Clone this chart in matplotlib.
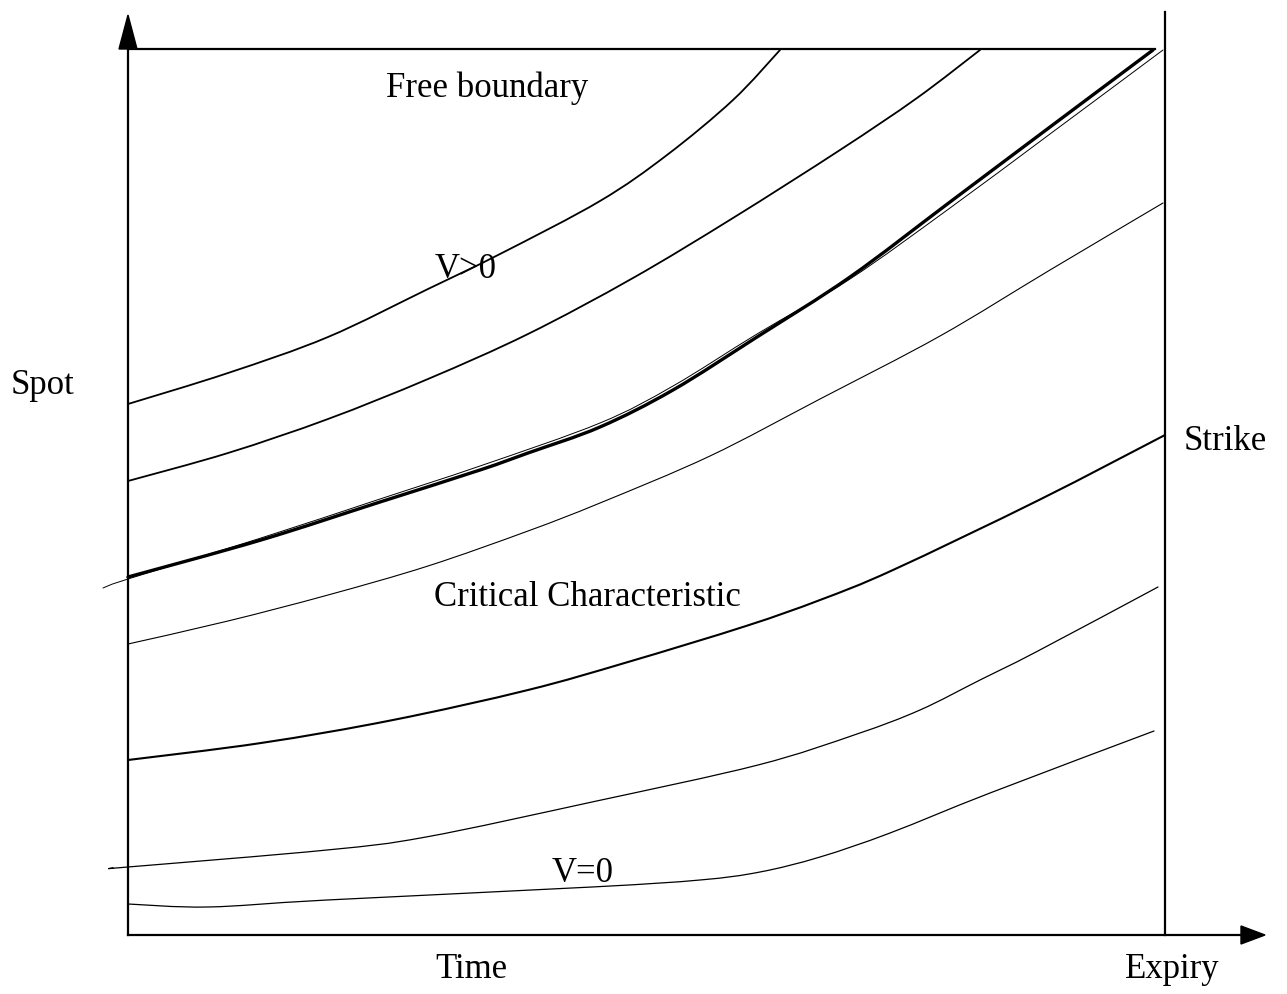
import matplotlib
matplotlib.use("Agg")
import matplotlib.pyplot as plt
from matplotlib.patches import Polygon, PathPatch
from matplotlib.path import Path

plt.rcParams['font.family'] = ['Liberation Serif', 'DejaVu Serif']

# characteristic curves, sampled in drawing units (x = time, y = spot, y downwards)
upper_x = [128, 228, 328, 428, 500, 600, 667, 733, 780]
upper_y = [404, 373, 337, 289, 254, 201, 155, 100, 50]

second_x = [128, 228, 328, 428, 528, 633, 733, 840, 917, 980]
second_y = [481, 453, 419, 379, 334, 278, 218, 150, 98, 50]

critical_x = [128, 261, 380, 480, 528, 600, 673, 757, 850, 950, 1050, 1153]
critical_y = [577, 540, 502, 470, 453, 427, 390, 337, 277, 202, 127, 50]

near_crit_x = [103, 128, 261, 380, 480, 600, 673, 757, 850, 950, 1050, 1163]
near_crit_y = [588, 579, 538, 499, 466, 423, 386, 334, 279, 208, 134, 50]

thin_x = [128, 228, 328, 428, 528, 600, 710, 820, 940, 1050, 1163]
thin_y = [644, 621, 595, 566, 531, 503, 456, 399, 336, 270, 203]

strike_x = [128, 261, 393, 528, 628, 746, 820, 893, 1039, 1165]
strike_y = [760, 743, 720, 690, 662, 626, 600, 570, 500, 435]

lower_x = [113, 128, 327, 426, 592, 758, 857, 920, 980, 1036, 1158]
lower_y = [868, 867, 850, 837, 802, 765, 734, 710, 680, 652, 587]

zero_x = [128, 208, 327, 592, 700, 760, 820, 890, 990, 1154]
zero_y = [904, 907, 900, 887, 880, 872, 857, 833, 793, 731]


def curve(ax, xs, ys, lw):
    # Catmull-Rom through the sampled points, drawn as cubic Bezier segments
    pts = list(zip(xs, ys))
    n = len(pts)
    verts = [pts[0]]
    codes = [Path.MOVETO]
    for i in range(n - 1):
        p0 = pts[max(i - 1, 0)]
        p1 = pts[i]
        p2 = pts[i + 1]
        p3 = pts[min(i + 2, n - 1)]
        c1 = (p1[0] + (p2[0] - p0[0]) / 6, p1[1] + (p2[1] - p0[1]) / 6)
        c2 = (p2[0] - (p3[0] - p1[0]) / 6, p2[1] - (p3[1] - p1[1]) / 6)
        verts += [c1, c2, p2]
        codes += [Path.CURVE4] * 3
    ax.add_patch(PathPatch(Path(verts, codes), fill=False, edgecolor='black',
                           lw=lw, capstyle='round', joinstyle='round'))


fig = plt.figure(figsize=(12.87, 9.94), dpi=100)
ax = fig.add_axes([0, 0, 1, 1])
ax.set_xlim(0, 1287)
ax.set_ylim(994, 0)
ax.axis('off')

k = 'black'
# axes, top boundary and expiry line
ax.plot([128, 128], [935, 40], color=k, lw=1.6)
ax.plot([128, 1245], [935, 935], color=k, lw=1.6)
ax.plot([128, 1155], [49, 49], color=k, lw=1.6)
ax.plot([1165, 1165], [12, 935], color=k, lw=1.6)
ax.add_patch(Polygon([[128, 15], [119, 49], [137, 49]], closed=True, color=k))
ax.add_patch(Polygon([[1265, 935], [1241, 926], [1241, 944]], closed=True, color=k))

# characteristics
curve(ax, upper_x, upper_y, 1.3)
curve(ax, second_x, second_y, 1.3)
curve(ax, near_crit_x, near_crit_y, 0.7)
curve(ax, critical_x, critical_y, 2.4)
curve(ax, thin_x, thin_y, 0.8)
curve(ax, strike_x, strike_y, 1.5)
curve(ax, lower_x, lower_y, 0.9)
curve(ax, zero_x, zero_y, 0.9)

fs = 25
ax.text(487, 88, 'Free boundary', fontsize=fs, ha='center', va='center')
ax.text(466, 270, 'V>0', fontsize=fs, ha='center', va='center')
ax.text(587, 597, 'Critical Characteristic', fontsize=fs, ha='center', va='center')
ax.text(583, 873, 'V=0', fontsize=fs, ha='center', va='center')
ax.text(43, 385, 'Spot', fontsize=fs, ha='center', va='center')
ax.text(1225, 441, 'Strike', fontsize=fs, ha='center', va='center')
ax.text(471, 970, 'Time', fontsize=fs, ha='center', va='center')
ax.text(1172, 970, 'Expiry', fontsize=fs, ha='center', va='center')

fig.savefig('out.png', dpi=100)
